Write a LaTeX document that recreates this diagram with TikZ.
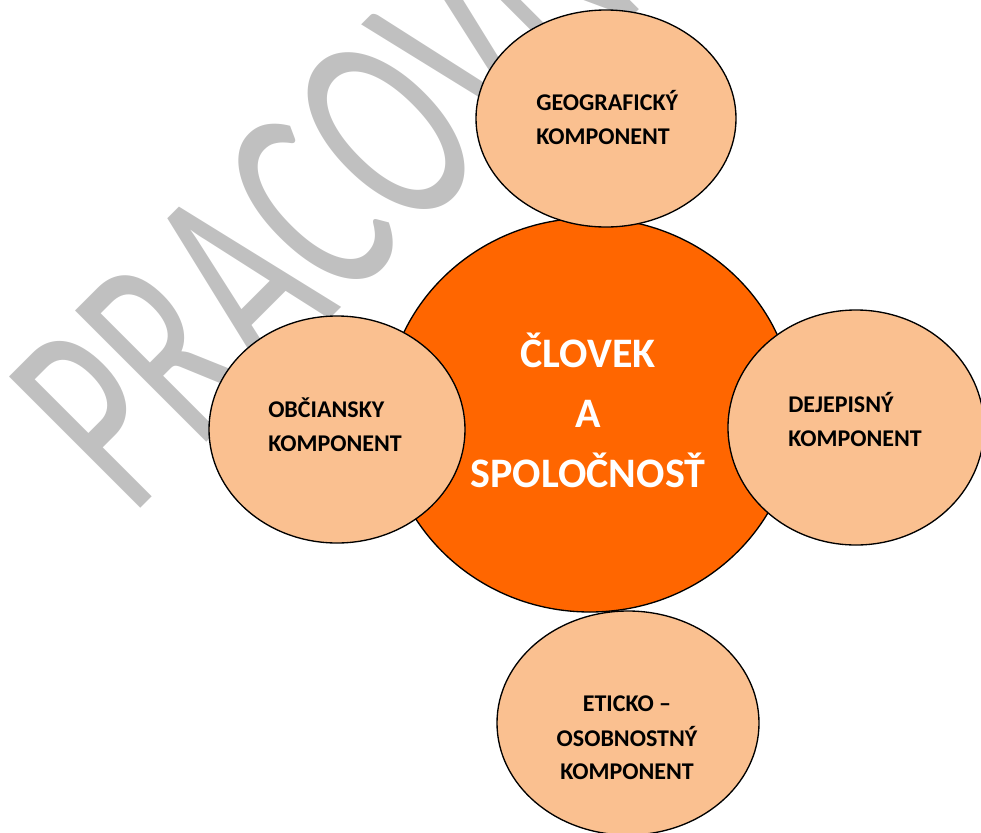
\documentclass[tikz,border=0pt]{standalone}
\usepackage{fontspec}
\setmainfont{Carlito}
\usetikzlibrary{shapes.geometric}
\definecolor{mainorange}{HTML}{FF6600}
\definecolor{lightorange}{HTML}{FAC090}
\definecolor{wmgray}{HTML}{C0C0C0}
\begin{document}
\begin{tikzpicture}[x=0.75pt,y=-0.75pt,
  blob/.style={ellipse, draw=black, line width=1pt, inner sep=0pt},
  comp/.style={blob, fill=lightorange},
  label/.style={anchor=base west, inner sep=0pt, font=\fontsize{18}{21}\selectfont\bfseries, text=black},
  clabel/.style={anchor=base, inner sep=0pt, font=\fontsize{18}{21}\selectfont\bfseries, text=black},
  mainlabel/.style={anchor=base, inner sep=0pt, font=\fontsize{31.5}{34}\selectfont\bfseries, text=white},
  wm/.style={anchor=base west, inner sep=0pt, rotate=45, xscale=0.63, text=wmgray, font=\fontsize{217}{217}\selectfont}]
\useasboundingbox (0,0) rectangle (981,832);
\clip (0,0) rectangle (981,832);
\node[wm] (wm) at (131,518) {PRACOVNÝ};
% central circle
\node[blob, fill=mainorange, minimum width=307.5pt, minimum height=295.5pt] (main) at (590,415) {};
% components
\node[comp, minimum width=195pt, minimum height=162.75pt] (top) at (606,118.5) {};
\node[comp, minimum width=192pt, minimum height=170.25pt] (left) at (337,429.5) {};
\node[comp, minimum width=192pt, minimum height=176.25pt] (right) at (856,427.5) {};
\node[comp, minimum width=196.5pt, minimum height=168pt] (bottom) at (628,723) {};
% main text
\node[mainlabel] (m1) at (588,367) {ČLOVEK};
\node[mainlabel] (m2) at (588,427) {A};
\node[mainlabel] (m3) at (588,487) {SPOLOČNOSŤ};
% top text
\node[label] (t1) at (536,110) {GEOGRAFICKÝ};
\node[label] (t2) at (536,144) {KOMPONENT};
% left text
\node[label] (l1) at (268,417) {OBČIANSKY};
\node[label] (l2) at (268,451) {KOMPONENT};
% right text
\node[label] (r1) at (788,412) {DEJEPISNÝ};
\node[label] (r2) at (788,446) {KOMPONENT};
% bottom text
\node[clabel] (b1) at (627,711) {ETICKO –};
\node[clabel] (b2) at (627,746) {OSOBNOSTNÝ};
\node[clabel] (b3) at (627,779) {KOMPONENT};
\end{tikzpicture}
\end{document}
